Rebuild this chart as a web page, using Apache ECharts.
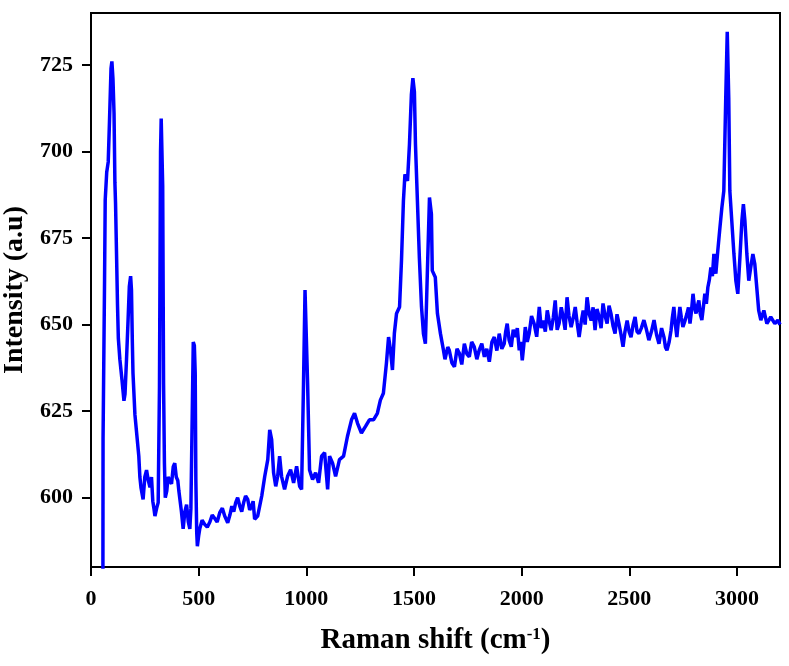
<!DOCTYPE html>
<html>
<head>
<meta charset="utf-8">
<script src="https://cdn.jsdelivr.net/npm/echarts@6/dist/echarts.min.js"></script>
<style>
  html, body { margin: 0; padding: 0; background: #fff; }
  #main { width: 789px; height: 666px; }
</style>
</head>
<body>
<div id="main"></div>
<script>
// Raman spectrum, split in a few stretches
// low region: lattice modes up to ~500 cm-1
var lowShift = [55, 56, 61, 63, 66, 73, 80, 86, 93, 97, 102, 107, 111, 114, 119, 123, 127, 134, 144, 153,
  158, 165, 172, 178, 184, 188, 192, 195, 204, 213, 222, 227, 232, 242, 250, 258, 266, 274, 281, 287,
  292, 297, 305, 312, 318, 323, 326, 330, 333, 337, 341, 345, 352, 358, 366, 374, 382, 389, 396, 403,
  408, 413, 420, 428, 436, 444, 452, 459, 464, 469, 472, 475, 480, 484, 487, 491, 494, 500, 505];
var lowInt = [560, 617, 617, 663, 686, 694, 697, 709, 724, 726, 721, 711, 691, 685, 669, 656, 646, 640, 634, 628,
  630, 640, 651, 661, 664, 660, 645, 636, 624, 618, 612, 606, 603, 599.5, 606, 608, 605, 603, 606, 599,
  597, 594.7, 597, 598.6, 632, 700, 709.5, 709, 690, 633, 610, 600, 602, 606, 606, 604, 609, 610, 606, 605,
  602, 602, 596, 591, 596, 598, 593, 591, 597, 597, 632, 645, 644, 636, 605, 590, 586, 589, 591];

// flat stretch 500-800
var flatShift = [516, 528, 540, 552, 563, 575, 586, 598, 610, 621, 635, 645, 654, 663, 672, 681, 691, 700,
  709, 718, 728, 737, 746, 753, 760, 774, 793];
var flatInt = [593.5, 592.3, 591.5, 593, 595, 594, 593, 595.7, 597, 594.7, 592.8, 595, 597.6, 596, 598.6, 600, 597.6, 596,
  598.6, 600.5, 599.5, 596.5, 597.6, 599, 593.8, 594.7, 600.5];

// 800-1640: 1000 line and the D/G-like bands
var midShift = [807, 821, 830, 839, 848, 858, 867, 876, 885, 899, 913, 927, 941, 955, 969, 978, 987, 994, 1001, 1006,
  1015, 1029, 1043, 1057, 1071, 1085, 1099, 1108, 1122, 1136, 1154, 1173, 1191, 1210, 1224, 1238, 1256, 1275, 1293, 1312,
  1330, 1344, 1358, 1372, 1382, 1391, 1400, 1409, 1419, 1433, 1442, 1451, 1458, 1470, 1479, 1488, 1495, 1502, 1507, 1516,
  1525, 1535, 1544, 1553, 1562, 1572, 1581, 1585, 1599, 1609, 1623, 1637];
var midInt = [606.2, 611, 619.6, 616.8, 607.2, 603.3, 606.2, 612, 606.2, 602.4, 606.2, 608.1, 604.3, 609.1, 603.3, 602.4, 633, 660, 660, 633,
  608, 605.3, 607.2, 604.3, 612, 613, 602.4, 612, 610, 606.2, 611, 612, 617.7, 622.5, 624.4, 621.5, 618.7, 620.6, 622.5, 622.5,
  624.4, 628.2, 630.2, 638.8, 646.4, 642.6, 636.9, 647.5, 653.2, 655.1, 668.5, 685.7, 693.4, 691.5, 702, 716.4, 721.2, 717.3, 702, 685.7,
  669.4, 655.1, 647.4, 644.5, 664.7, 686.7, 681.9, 665.6, 663.7, 653.2, 647.4, 642.6];

// noisy plateau 1640-2900
var plateauShift = [1644, 1650, 1657, 1664, 1676, 1688, 1700, 1711, 1722, 1734, 1746, 1757, 1768, 1780, 1792, 1803, 1815, 1827, 1838, 1850,
  1862, 1873, 1885, 1896, 1908, 1919, 1926, 1933, 1942, 1952, 1961, 1970, 1980, 1989, 1996, 2003, 2010, 2017, 2026, 2035,
  2046, 2058, 2070, 2082, 2091, 2100, 2110, 2119, 2128, 2137, 2147, 2156, 2165, 2174, 2184, 2193, 2202, 2211, 2220, 2230,
  2240, 2249, 2258, 2267, 2276, 2286, 2295, 2304, 2314, 2323, 2332, 2341, 2350, 2360, 2369, 2378, 2388, 2397, 2406, 2415,
  2425, 2434, 2443, 2452, 2462, 2471, 2480, 2490, 2499, 2508, 2518, 2527, 2536, 2545, 2556, 2568, 2580, 2591, 2603, 2615,
  2627, 2638, 2650, 2661, 2668, 2675, 2685, 2694, 2700, 2707, 2714, 2721, 2728, 2735, 2742, 2749, 2758, 2768, 2775, 2782,
  2789, 2796, 2803, 2810, 2817, 2823, 2830, 2837, 2844, 2851, 2858, 2865, 2872, 2879, 2886, 2893];
var plateauInt = [640, 639.7, 643.5, 642.6, 639, 637.8, 643, 641.7, 638.5, 644.5, 641.5, 640.7, 645, 643.6, 640, 642.6, 644.5, 640.7, 643, 639.3,
  645, 646.4, 642.5, 647.4, 643, 644.5, 648, 650.3, 645.5, 643.6, 648.5, 646.4, 649, 642.6, 645, 639.7, 644, 649.3, 645, 647.4,
  652.5, 650.3, 646.5, 655.1, 649, 651.2, 648, 654.1, 651, 648.4, 652, 657, 648.5, 650.3, 655, 652.2, 648.5, 657.9, 652.5, 649.3,
  652, 655.1, 650.5, 646.4, 650.5, 654.1, 650, 657.9, 653, 651.2, 655, 648.4, 654.5, 652.2, 649, 656.1, 652.5, 650.3, 655.5, 653.2,
  649.5, 647.4, 653, 650.3, 647, 643.6, 648, 651.2, 648, 646.4, 650, 652.2, 648, 647.4, 649, 651.3, 648.5, 645.5, 648, 651.3,
  647, 644.5, 649, 646.4, 643.5, 642.6, 645, 648.4, 652, 655.1, 650, 646.4, 651, 655.1, 652, 649.3, 651, 653.2, 655, 650.3,
  654, 658.9, 655, 653.2, 655.5, 657, 653, 651.3, 655, 658.9, 656, 660.8, 663, 666.5, 664, 670.4];

// C-H stretch region 2900-3200
var highShift = [2902, 2911, 2921, 2930, 2939, 2948, 2955, 2962, 2967, 2976, 2986, 2995, 3004, 3013, 3023, 3030, 3037, 3046, 3055, 3064,
  3074, 3083, 3092, 3101, 3111, 3125, 3139, 3157, 3176, 3190, 3200];
var highInt = [664.7, 671.3, 678, 683.8, 688.6, 715.4, 734.6, 715.4, 688.6, 680, 670.4, 662.7, 658.9, 668.5, 680, 684.8, 680, 670.4, 662.7, 666.5,
  670.4, 667.5, 660.8, 654.1, 651.3, 654.1, 650.3, 652.2, 650.3, 651.3, 650];

var xTicks = [0, 500, 1000, 1500, 2000, 2500, 3000];
var yTicks = [600, 625, 650, 675, 700, 725];

var shift = [].concat(lowShift, flatShift, midShift, plateauShift, highShift);
var intensity = [].concat(lowInt, flatInt, midInt, plateauInt, highInt);
var points = shift.map(function (x, i) { return [x, intensity[i]]; });

var serif = '"Liberation Serif", "Times New Roman", serif';

var myChart = echarts.init(document.getElementById('main'), null, { renderer: 'canvas' });

myChart.setOption({
  animation: false,
  backgroundColor: '#ffffff',
  grid: {
    left: 91, top: 13, right: 9, bottom: 99,
    outerBoundsMode: 'none',
    containLabel: false,
    show: true,
    borderColor: '#000',
    borderWidth: 2,
    backgroundColor: 'transparent'
  },
  xAxis: {
    type: 'value',
    min: 0,
    max: 3200,
    name: 'Raman shift (cm{sup|-1})',
    nameLocation: 'middle',
    nameGap: 59,
    nameMoveOverlap: false,
    nameTextStyle: {
      fontFamily: serif, fontWeight: 'bold', fontSize: 29, color: '#000',
      rich: {
        sup: { fontFamily: serif, fontWeight: 'bold', fontSize: 17, color: '#000', verticalAlign: 'top', padding: [0, 0, 12, 0] }
      }
    },
    axisLine: { show: true, onZero: false, lineStyle: { color: '#000', width: 2 } },
    axisTick: { show: true, length: 9, lineStyle: { color: '#000', width: 2 }, customValues: xTicks },
    axisLabel: {
      color: '#000', fontFamily: serif, fontWeight: 'bold', fontSize: 22, margin: 21, customValues: xTicks,
      formatter: function (v) { return String(v); }
    },
    splitLine: { show: false }
  },
  yAxis: {
    type: 'value',
    min: 580,
    max: 740,
    name: 'Intensity (a.u)',
    nameLocation: 'middle',
    nameGap: 62,
    nameMoveOverlap: false,
    nameTextStyle: { fontFamily: serif, fontWeight: 'bold', fontSize: 28, color: '#000' },
    axisLine: { show: true, onZero: false, lineStyle: { color: '#000', width: 2 } },
    axisTick: { show: true, length: 9, lineStyle: { color: '#000', width: 2 }, customValues: yTicks },
    axisLabel: {
      color: '#000', fontFamily: serif, fontWeight: 'bold', fontSize: 22, margin: 18, customValues: yTicks,
      formatter: function (v) { return String(v); }
    },
    splitLine: { show: false }
  },
  series: [{
    type: 'line',
    data: points,
    showSymbol: false,
    clip: true,
    lineStyle: { color: '#0000ff', width: 3.5 },
    itemStyle: { color: '#0000ff' }
  }]
});
</script>
</body>
</html>
